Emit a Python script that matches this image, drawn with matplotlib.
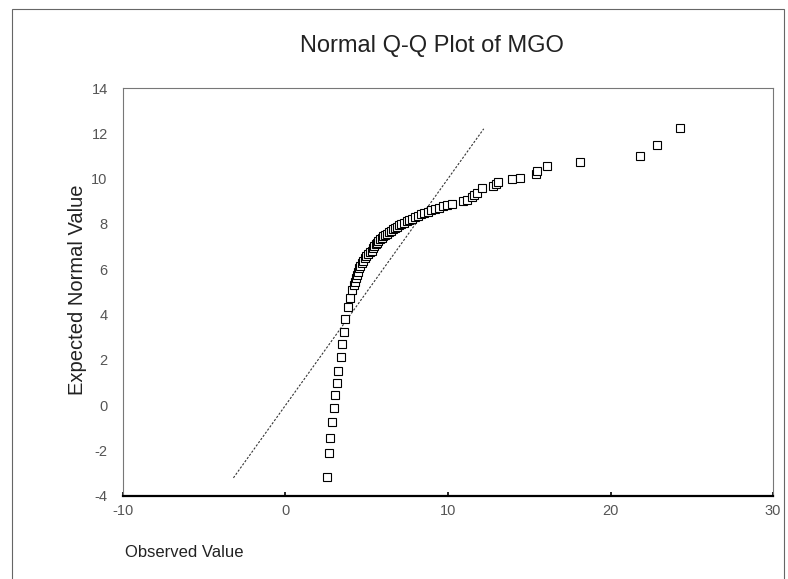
import matplotlib
matplotlib.use('Agg')
import matplotlib.pyplot as plt
from matplotlib.patches import Rectangle

plt.rcParams['font.family'] = ['Liberation Sans', 'DejaVu Sans']
plt.rcParams['axes.unicode_minus'] = False

observed = [2.53, 2.68, 2.74, 2.86, 2.98, 3.07, 3.15, 3.25, 3.40, 3.50,
            3.62, 3.68, 3.87, 3.97, 4.11, 4.20, 4.28, 4.33, 4.38, 4.45,
            4.54, 4.60, 4.69, 4.78, 4.89, 4.98, 5.09, 5.18, 5.30, 5.38,
            5.47, 5.55, 5.62, 5.70, 5.80, 5.92, 6.02, 6.12, 6.25, 6.36,
            6.48, 6.60, 6.72, 6.85, 6.98, 7.12, 7.28, 7.45, 7.62, 7.80,
            7.98, 8.15, 8.35, 8.55, 8.75, 8.98, 9.20, 9.45, 9.70, 9.92,
            10.25, 10.90, 11.15, 11.46, 11.62, 11.77, 12.07, 12.79, 12.95, 13.10,
            13.92, 14.43, 15.40, 15.50, 16.07, 18.12, 21.82, 22.88, 24.28]
expected = [-3.15, -2.09, -1.45, -0.72, -0.10, 0.44, 0.97, 1.51, 2.12, 2.71,
            3.25, 3.79, 4.32, 4.72, 5.09, 5.30, 5.45, 5.60, 5.75, 5.90,
            6.04, 6.15, 6.26, 6.38, 6.49, 6.58, 6.67, 6.75, 6.82, 6.93,
            7.02, 7.10, 7.18, 7.26, 7.33, 7.40, 7.46, 7.52, 7.58, 7.64,
            7.70, 7.76, 7.82, 7.88, 7.94, 8.00, 8.06, 8.12, 8.18, 8.24,
            8.30, 8.36, 8.42, 8.48, 8.54, 8.60, 8.66, 8.72, 8.78, 8.84,
            8.90, 9.00, 9.06, 9.20, 9.28, 9.38, 9.57, 9.67, 9.76, 9.86,
            9.97, 10.04, 10.22, 10.36, 10.57, 10.75, 11.01, 11.48, 12.22]

# droite de référence y = x
ref_line = [-3.2, 12.2]

x_ticks = [-10, 0, 10, 20, 30]
y_ticks = [-4, -2, 0, 2, 4, 6, 8, 10, 12, 14]

fig = plt.figure(figsize=(7.88, 5.79), dpi=100)
ax = fig.add_axes([0.156, 0.1434, 0.825, 0.7046])

ax.plot(ref_line, ref_line, color='#333333', lw=0.8, linestyle=(0, (2, 1.5)))
ax.plot(observed, expected, linestyle='none', marker='s', markersize=5.3,
        markerfacecolor='white', markeredgecolor='black', markeredgewidth=0.8)

ax.set_xlim(-10, 30)
ax.set_ylim(-4, 14)
ax.set_xticks(x_ticks)
ax.set_yticks(y_ticks)
ax.tick_params(axis='x', direction='in', length=3, width=1.2, pad=6,
               labelsize=10.5, labelcolor='#555555')
ax.tick_params(axis='y', length=0, pad=11, labelsize=10.5, labelcolor='#555555')

for side in ['left', 'top', 'right']:
    ax.spines[side].set_color('#777777')
    ax.spines[side].set_linewidth(0.8)
ax.spines['bottom'].set_color('black')
ax.spines['bottom'].set_linewidth(1.6)

fig.text(0.548, 0.921, 'Normal Q-Q Plot of MGO', ha='center', va='center',
         fontsize=17, color='#222222')
fig.text(0.098, 0.499, 'Expected Normal Value', ha='center', va='center',
         rotation=90, fontsize=14.5, color='#222222')
fig.text(0.159, 0.045, 'Observed Value', ha='left', va='center',
         fontsize=12, color='#222222')

# cadre autour de la figure
fig.patches.append(Rectangle((12 / 788, -0.02), 772 / 788, 1.005, transform=fig.transFigure,
                             fill=False, edgecolor='#666666', lw=0.8))

fig.savefig('out.png', dpi=100)
